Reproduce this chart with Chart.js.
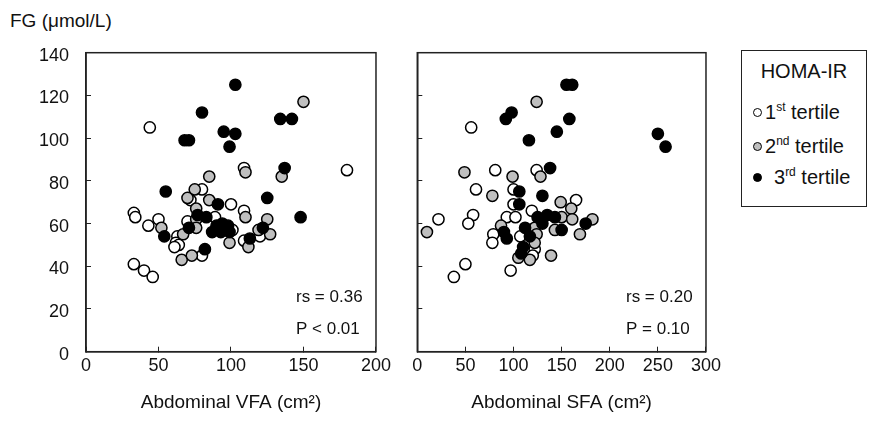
<!DOCTYPE html>
<html>
<head>
<meta charset="utf-8">
<script src="https://cdn.jsdelivr.net/npm/chart.js@4.4.0/dist/chart.umd.min.js"></script>
<style>
  body { margin: 0; background: #fff; font-family: "Liberation Sans", Arial, sans-serif; color: #111; }
  #wrap { position: relative; width: 869px; height: 422px; overflow: hidden; }
  canvas { position: absolute; top: 0; }
  .lbl { position: absolute; font-size: 19px; white-space: nowrap; }
  #legend { position: absolute; left: 741px; top: 50px; width: 126px; height: 157px; border: 1px solid #222; box-sizing: border-box; }
  #legend .lbl { font-size: 20px; }
  .dot { position: absolute; width: 9px; height: 9px; border-radius: 50%; border: 1px solid #000; box-sizing: border-box; }
  sup { font-size: 12px; }
</style>
</head>
<body>
<div id="wrap">
  <div class="lbl" style="left:10px;top:10px;">FG (μmol/L)</div>
  <canvas id="vfa" width="400" height="422" style="left:0"></canvas>
  <canvas id="sfa" width="330" height="422" style="left:400px"></canvas>
  <div id="legend">
    <div class="lbl" style="left:0;width:124px;text-align:center;top:9px;">HOMA-IR</div>
    <div class="dot" style="left:11px;top:57px;background:#fff"></div>
    <div class="lbl" style="left:23px;top:49px;">1<sup>st</sup> tertile</div>
    <div class="dot" style="left:11px;top:91px;background:#bfbfbf"></div>
    <div class="lbl" style="left:23px;top:83px;">2<sup>nd</sup> tertile</div>
    <div class="dot" style="left:11px;top:122px;background:#000"></div>
    <div class="lbl" style="left:32px;top:114px;">3<sup>rd</sup> tertile</div>
  </div>
</div>
<script>
"use strict";
///////////////////////////////
//Data
const yTicks = [0, 20, 40, 60, 80, 100, 120, 140];
const vfaTicks = [0, 50, 100, 150, 200];
const sfaTicks = [0, 50, 100, 150, 200, 250, 300];

// Abdominal VFA [x, FG]
const vfaTertile1 = [[44,105],[109,86],[180,85],[80,76],[72,71],[100,69],[109,66],[33,65],[34,63],[50,62],[43,59],[70,61],[63,54],[62,51],[64,50],[61,49],[89,63],[101,57],[109,52],[120,54],[80,45],[33,41],[40,38],[46,35]];
const vfaTertile2 = [[150,117],[110,84],[135,82],[85,82],[75,76],[70,72],[85,71],[76,67],[110,63],[52,58],[76,62],[76,58],[67,55],[99,51],[112,49],[125,62],[119,57],[127,55],[66,43],[73,45]];
const vfaTertile3 = [[103,125],[80,112],[134,109],[142,109],[68,99],[71,99],[95,103],[103,102],[99,96],[137,86],[55,75],[125,72],[91,69],[148,63],[54,54],[77,64],[83,63],[71,58],[90,59],[94,60],[98,59],[87,56],[93,56],[99,56],[113,53],[122,58],[82,48]];

// Abdominal SFA [x, FG]
const sfaTertile1 = [[56,105],[81,85],[124,85],[61,76],[100,76],[22,62],[58,64],[53,60],[50,41],[38,35],[97,38],[100,69],[165,71],[119,66],[93,63],[102,63],[79,55],[78,51],[107,54],[122,48],[120,45]];
const sfaTertile2 = [[124,117],[49,84],[128,82],[99,82],[78,73],[10,56],[139,45],[149,70],[160,67],[150,63],[161,62],[182,62],[169,55],[143,57],[87,59],[122,58],[124,55],[122,51],[105,44],[117,43]];
const sfaTertile3 = [[155,125],[161,125],[98,112],[92,109],[158,109],[145,103],[116,99],[250,102],[258,96],[138,86],[106,75],[130,73],[106,69],[125,63],[135,64],[143,63],[130,60],[175,60],[150,57],[90,56],[93,53],[112,58],[117,54],[110,49],[108,46]];

const vfaStats = ["rs = 0.36", "P < 0.01"];
const sfaStats = ["rs = 0.20", "P = 0.10"];

//////////////////////////////
//Helpers
Chart.defaults.font.family = "'Liberation Sans', Arial, sans-serif";
Chart.defaults.font.size = 18;
Chart.defaults.color = "#111";

const toPoints = (arr) => arr.map((p) => ({ x: p[0], y: p[1] }));

const makeSet = function (data, fill) {
  return {
    data: toPoints(data),
    backgroundColor: fill,
    borderColor: "#000",
    borderWidth: 1.5,
    pointRadius: 5.6,
    pointHoverRadius: 5.6,
  };
};

// frame round the plot + rs / P text
const framePlugin = {
  id: "frame",
  afterDraw(chart, args, opts) {
    const { ctx, chartArea: a } = chart;
    ctx.save();
    ctx.strokeStyle = "#222";
    ctx.lineWidth = 1.5;
    ctx.strokeRect(a.left, a.top, a.right - a.left, a.bottom - a.top);
    ctx.fillStyle = "#111";
    ctx.font = "17px 'Liberation Sans', Arial, sans-serif";
    ctx.textAlign = "left";
    ctx.textBaseline = "middle";
    ctx.fillText(opts.lines[0], a.right - 80, a.bottom - 54);
    ctx.fillText(opts.lines[1], a.right - 80, a.bottom - 22);
    ctx.restore();
  },
};

const makeChart = function (id, sets, xMax, xTicks, title, stats, showY) {
  return new Chart(document.getElementById(id), {
    type: "scatter",
    data: {
      datasets: [
        makeSet(sets[2], "#000"),
        makeSet(sets[1], "#bfbfbf"),
        makeSet(sets[0], "#fff"),
      ],
    },
    plugins: [framePlugin],
    options: {
      responsive: false,
      animation: false,
      layout: { padding: { left: 0, top: 52.7, right: showY ? 15.3 : 14.7, bottom: 0 } },
      plugins: { legend: { display: false }, tooltip: { enabled: false }, frame: { lines: stats } },
      scales: {
        x: {
          type: "linear",
          min: 0,
          max: xMax,
          afterBuildTicks: (s) => { s.ticks = xTicks.map((v) => ({ value: v })); },
          afterFit: (s) => { s.height = 70.3; },
          ticks: { padding: 9, color: "#111" },
          grid: { drawOnChartArea: false, tickLength: -5, color: "#222", lineWidth: 1 },
          border: { display: true, color: "#222", width: 1.5 },
          title: { display: true, text: title, color: "#111", font: { size: 19 }, padding: { top: 0, bottom: 8 } },
        },
        y: {
          min: 0,
          max: 140,
          afterBuildTicks: (s) => { s.ticks = yTicks.map((v) => ({ value: v })); },
          afterFit: (s) => { s.width = showY ? 86 : 17.3; },
          ticks: { display: showY, padding: 22, labelOffset: 3, color: "#111" },
          grid: { drawOnChartArea: false, tickLength: -5, color: "#222", lineWidth: 1 },
          border: { display: true, color: "#222", width: 1.5 },
        },
      },
    },
  });
};

//////////////////////////
//Invoke
makeChart("vfa", [vfaTertile1, vfaTertile2, vfaTertile3], 200, vfaTicks, "Abdominal VFA (cm²)", vfaStats, true);
makeChart("sfa", [sfaTertile1, sfaTertile2, sfaTertile3], 300, sfaTicks, "Abdominal SFA (cm²)", sfaStats, false);
</script>
</body>
</html>
